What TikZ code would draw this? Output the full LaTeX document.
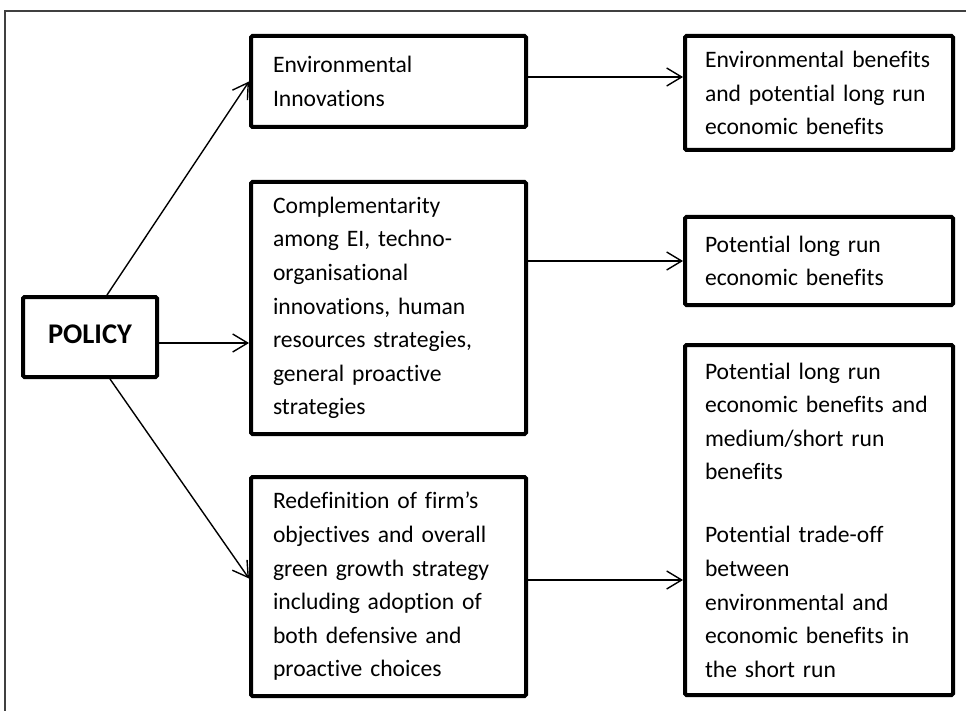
\documentclass[tikz,border=0pt]{standalone}
\usepackage{fontspec}
\setmainfont[Ligatures=NoCommon]{Carlito}
\usetikzlibrary{arrows.meta,calc}
\hyphenpenalty=10000
\tikzset{
  box/.style={draw=black, line width=4pt, rounded corners=1.5pt, fill=white,
    align=left, inner xsep=22pt, inner ysep=0pt,
    font=\fontsize{23.6}{33.6}\selectfont},
  rbox/.style={box, inner xsep=20pt, text width=228pt, minimum width=268pt},
  arr/.style={line width=1.4pt, -{Straight Barb[length=15pt,width=18pt,line width=1.4pt]}},
  frame/.style={draw=black!75, line width=1.2pt}
}
\begin{document}
\begin{tikzpicture}[x=1pt,y=-1pt]
\useasboundingbox (0,0) rectangle (966,711);
\draw[frame] (5,711) -- (5,11) -- (966,11);

\node[box, minimum width=134pt, minimum height=80pt, text width=90pt, align=center,
  font=\fontsize{28.5}{30}\selectfont\bfseries] (policy) at (90,337) {\raisebox{6pt}{POLICY}};

\node[box, minimum width=275pt, minimum height=91pt, text width=231pt] (env) at (388.5,81.5)
  {Environmental\\Innovations};
\node[box, minimum width=275pt, minimum height=252pt, text width=231pt] (comp) at (388.5,308)
  {Complementarity\\among EI, techno-\\organisational\\innovations, human\\resources strategies,\\general proactive\\strategies};
\node[box, minimum width=275pt, minimum height=219pt, text width=231pt] (redef) at (388.5,586.5)
  {Redefinition of firm’s\\objectives and overall\\green growth strategy\\including adoption of\\both defensive and\\proactive choices};

\node[rbox, minimum height=114pt] (envben) at (819,93)
  {Environmental benefits\\and potential long run\\economic benefits};
\node[rbox, minimum height=88pt] (plr) at (819,261)
  {Potential long run\\economic benefits};
\node[rbox, minimum height=350pt] (plr2) at (819,520)
  {Potential long run\\economic benefits and\\medium/short run\\benefits\\[29.4pt]Potential trade-off\\between\\environmental and\\economic benefits in\\the short run};

\draw[arr] ($(policy.north)+(17,0)$) -- (env.west);
\draw[arr] ($(policy.east)+(0,6)$) coordinate (p2) -- (p2 -| comp.west);
\draw[arr] ($(policy.south)+(20,0)$) -- ($(redef.west)+(0,-8)$);

\draw[arr] ($(env.east)+(0,-4.5)$) coordinate (a1) -- (a1 -| envben.west);
\draw[arr] (comp.east |- plr.west) -- (plr.west);
\draw[arr] ($(redef.east)+(0,-6.5)$) coordinate (a3) -- (a3 -| plr2.west);
\end{tikzpicture}
\end{document}
